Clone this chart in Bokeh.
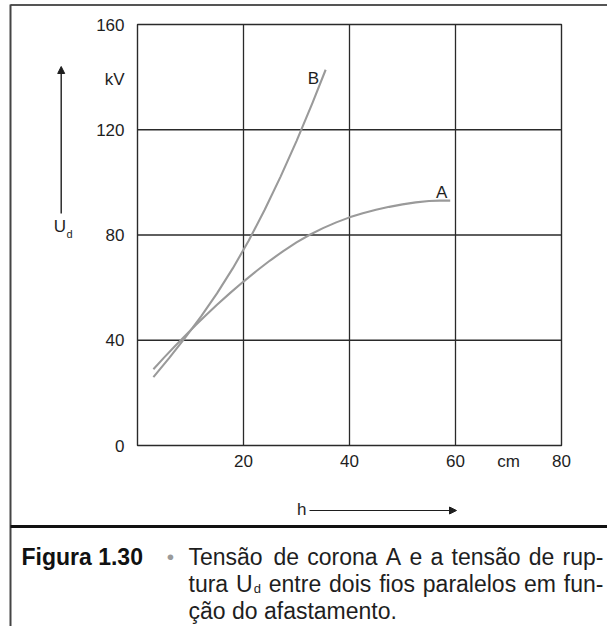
from bokeh.plotting import figure
from bokeh.models import Label, Arrow, NormalHead, FixedTicker, Range1d, LinearAxis
from bokeh.embed import file_html
from bokeh.resources import INLINE
from bokeh.core.properties import value

# ---------------- data ----------------
h_A = [3, 5, 7, 9, 11, 13, 15, 17.5, 20, 22.5, 25, 27.5, 30, 32.5, 35, 37.5, 40,
       42.5, 45, 47.5, 50, 52.5, 55, 57, 59]
U_A = [29, 33.4, 37.6, 41.7, 45.8, 49.7, 53.5, 58.0, 62.3, 66.4, 70.3, 73.9, 77.2,
       80.1, 82.6, 84.8, 86.7, 88.3, 89.6, 90.7, 91.65, 92.4, 92.9, 93.05, 93.05]
h_B = [3, 6, 9, 12, 15, 18, 21, 24, 27, 30, 33, 35.5]
U_B = [26, 33.3, 41, 49.1, 57.8, 67.4, 77.9, 89.6, 102.2, 115.7, 130.1, 142.8]
series_names = ["A", "B"]

x_min, x_max = 0, 80
y_min, y_max = 0, 160
y_ticks = [0, 40, 80, 120, 160]
x_ticks = [20, 40, 60, 70, 80]
x_tick_overrides = {70: "cm"}
grid_x = [20, 40, 60]
grid_y = [40, 80, 120]

y_unit = "kV"
y_symbol = "U"
y_symbol_sub = "d"
x_symbol = "h"

fig_label = "Figura 1.30"
caption_line1 = "Tensão de corona A e a tensão de rup-"
caption_line2_a = "tura"
caption_line2_sym = "U"
caption_line2_sub = "d"
caption_line2_b = "entre dois fios paralelos em fun-"
caption_line3 = "ção do afastamento."

# ---------------- layout ----------------
W, H = 607, 626
PL, PR, PT, PB = 137, 561, 24, 445   # plot box in page pixels
FONT = "Liberation Sans"
INK = "#1e1e1e"
GRID = "#2a2a2a"
CURVE = "#9a9a9a"

sx = (PR - PL) / (x_max - x_min)
sy = (PB - PT) / (y_max - y_min)
x_range = Range1d(x_min - PL / sx, x_max + (W - PR) / sx)
y_range = Range1d(y_min - (H - PB) / sy, y_max + PT / sy)

p = figure(width=W, height=H, x_range=x_range, y_range=y_range,
           output_backend="svg", toolbar_location=None,
           x_axis_location=None, y_axis_location=None, min_border=0)
p.min_border_left = p.min_border_right = p.min_border_top = p.min_border_bottom = 0
p.background_fill_color = "white"
p.border_fill_color = "white"
p.outline_line_color = None
p.grid.visible = False


def style_axis(ax):
    ax.axis_line_color = None
    ax.major_tick_line_color = None
    ax.minor_tick_line_color = None
    ax.major_tick_in = 0
    ax.major_tick_out = 0
    ax.minor_tick_in = 0
    ax.minor_tick_out = 0
    ax.major_label_text_font = FONT
    ax.major_label_text_font_size = "17px"
    ax.major_label_text_color = INK


yax = LinearAxis(fixed_location=x_min, ticker=FixedTicker(ticks=y_ticks), bounds=(y_min, y_max))
style_axis(yax)
yax.major_label_standoff = 13
p.add_layout(yax, "left")

xax = LinearAxis(fixed_location=y_min, ticker=FixedTicker(ticks=x_ticks), bounds=(x_min, x_max))
style_axis(xax)
xax.major_label_overrides = x_tick_overrides
xax.major_label_standoff = 6
p.add_layout(xax, "below")

# grid and plot box
p.segment(x0=grid_x, y0=[y_min] * len(grid_x), x1=grid_x, y1=[y_max] * len(grid_x),
          line_color=GRID, line_width=1.3)
p.segment(x0=[x_min] * len(grid_y), y0=grid_y, x1=[x_max] * len(grid_y), y1=grid_y,
          line_color=GRID, line_width=1.3)
p.quad(left=[x_min], right=[x_max], bottom=[y_min], top=[y_max], fill_color=None,
       line_color=GRID, line_width=1.4)

# curves
p.line(h_A, U_A, line_color=CURVE, line_width=2.1, line_join="round")
p.line(h_B, U_B, line_color=CURVE, line_width=2.1, line_join="round")

p.text(x=[h_A[-1]], y=[U_A[-1]], text=[series_names[0]], x_offset=-8.6, y_offset=-8.3,
       text_align="center", text_baseline="middle", text_font=value(FONT),
       text_font_size="17px", text_color=INK)
p.text(x=[h_B[-1]], y=[U_B[-1]], text=[series_names[1]], x_offset=-12.3, y_offset=8.3,
       text_align="center", text_baseline="middle", text_font=value(FONT),
       text_font_size="17px", text_color=INK)


def lab(text, px, py, size=17, align="left", baseline="alphabetic", bold=False, color=INK):
    p.add_layout(Label(x=px, y=py, x_units="canvas", y_units="canvas", text=text,
                       text_font=FONT, text_font_size=f"{size}px", text_align=align,
                       text_baseline=baseline, text_color=color,
                       text_font_style="bold" if bold else "normal"))


def seg(x0, y0, x1, y1, width=1.5, color=INK, head=False):
    p.add_layout(Arrow(x_start=x0, y_start=y0, x_end=x1, y_end=y1,
                       start_units="canvas", end_units="canvas",
                       line_color=color, line_width=width,
                       end=NormalHead(size=7, fill_color=color, line_color=color) if head else None))


# frame of the figure box
seg(10, 4.5, 607, 4.5, width=2, color="#555555")
seg(10, 4, 10, 626, width=2, color="#444444")
seg(10, 526, 607, 526, width=3, color="#111111")

# y-axis annotation
lab(y_unit, 124, 79, align="right", baseline="middle")
seg(60.7, 213, 60.7, 66, width=1.4, head=True)
lab(y_symbol, 59.3, 226, align="center", baseline="middle")
lab(y_symbol_sub, 66, 233, size=11, align="left", baseline="middle")

# x-axis annotation
lab(x_symbol, 306, 509, align="right", baseline="middle")
seg(309, 510, 456, 510, width=1.2, head=True)

# caption
AW = {' ': 278, 'a': 556, 'b': 556, 'c': 500, 'd': 556, 'e': 556, 'f': 278, 'g': 556,
      'h': 556, 'i': 222, 'j': 222, 'k': 500, 'l': 222, 'm': 833, 'n': 556, 'o': 556,
      'p': 556, 'q': 556, 'r': 333, 's': 500, 't': 278, 'u': 556, 'v': 500, 'w': 722,
      'x': 500, 'y': 500, 'z': 500, 'A': 667, 'T': 611, 'U': 722, 'ã': 556, 'ç': 500,
      '-': 333, '.': 278}
CS = 23


def tw(s, size=CS):
    return sum(AW.get(c, 556) for c in s) * size / 1000


X0, X1 = 188, 603
B1, B2, B3 = 556, 583, 610

lab(fig_label, 21, B1, size=CS, bold=True, color="#111111")
lab("•", 170, B1, size=CS - 2, align="center", color="#9a9a9a")

words1 = caption_line1.split(" ")
wid1 = [tw(w) for w in words1]
gap1 = (X1 - X0 - sum(wid1)) / (len(words1) - 1)
x = X0
for w, wd in zip(words1, wid1):
    lab(w, x, B1, size=CS)
    x += wd + gap1

sub_w = tw(caption_line2_sub, 13) + 1
words2 = [caption_line2_a, caption_line2_sym] + caption_line2_b.split(" ")
wid2 = [tw(w) for w in words2]
wid2[1] += sub_w
gap2 = (X1 - X0 - sum(wid2)) / (len(words2) - 1)
x = X0
for i, (w, wd) in enumerate(zip(words2, wid2)):
    lab(w, x, B2, size=CS)
    if i == 1:
        lab(caption_line2_sub, x + tw(w) + 1, B2 + 5, size=13)
    x += wd + gap2

lab(caption_line3, X0, B3, size=CS)

open("out.html", "w").write(file_html(p, INLINE))
